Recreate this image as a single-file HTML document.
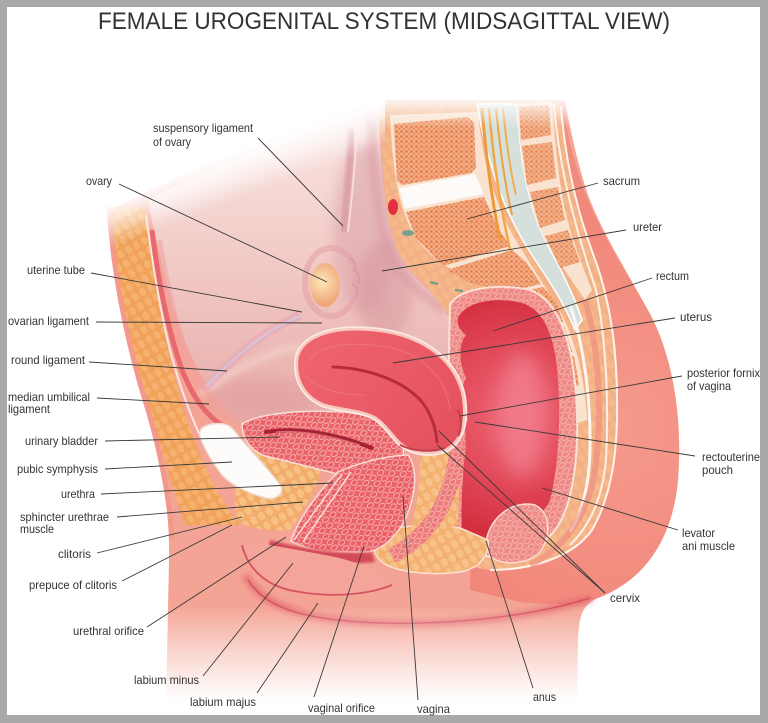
<!DOCTYPE html>
<html><head><meta charset="utf-8"><style>
html,body{margin:0;padding:0;background:#fff;}
svg{display:block;}
text{font-family:"Liberation Sans",Arial,sans-serif;fill:#333;font-size:12px;}
</style></head><body>
<svg width="768" height="723" viewBox="0 0 768 723" xmlns="http://www.w3.org/2000/svg">
<defs>
 <filter id="b1" x="-20%" y="-20%" width="140%" height="140%"><feGaussianBlur stdDeviation="1.2"/></filter>
 <filter id="b3" x="-30%" y="-30%" width="160%" height="160%"><feGaussianBlur stdDeviation="3"/></filter>
 <filter id="b6" x="-40%" y="-40%" width="180%" height="180%"><feGaussianBlur stdDeviation="6"/></filter>
 <filter id="b9" x="-50%" y="-50%" width="200%" height="200%"><feGaussianBlur stdDeviation="9"/></filter>
 <pattern id="sp" width="9" height="7" patternUnits="userSpaceOnUse" patternTransform="rotate(-35)">
  <ellipse cx="4.5" cy="3.5" rx="3.4" ry="2.4" fill="none" stroke="#f8bcb6" stroke-width="0.9"/>
 </pattern>
 <pattern id="fat" width="11" height="9" patternUnits="userSpaceOnUse" patternTransform="rotate(60)">
  <ellipse cx="5.5" cy="4.5" rx="4.6" ry="3.4" fill="#f8c890" opacity="0.75"/>
 </pattern>
 <pattern id="bone" width="5" height="5" patternUnits="userSpaceOnUse">
  <circle cx="1.5" cy="1.5" r="1.3" fill="#e27445"/><circle cx="4" cy="3.8" r="1.1" fill="#e8895a"/>
 </pattern>
 <linearGradient id="cav" x1="0" y1="100" x2="0" y2="430" gradientUnits="userSpaceOnUse">
  <stop offset="0" stop-color="#f9e6e3"/>
  <stop offset="0.3" stop-color="#f5d6d2"/>
  <stop offset="0.6" stop-color="#efc3bf"/>
  <stop offset="1" stop-color="#e7aba8"/>
 </linearGradient>
 <radialGradient id="butt" cx="610" cy="430" r="300" gradientUnits="userSpaceOnUse">
  <stop offset="0" stop-color="#f59a8c"/>
  <stop offset="0.7" stop-color="#f1877a"/>
  <stop offset="1" stop-color="#f09080"/>
 </radialGradient>
 <linearGradient id="fadeB" x1="0" y1="605" x2="0" y2="700" gradientUnits="userSpaceOnUse">
  <stop offset="0" stop-color="#fff" stop-opacity="0"/>
  <stop offset="0.5" stop-color="#fff" stop-opacity="0.55"/>
  <stop offset="1" stop-color="#fff" stop-opacity="1"/>
 </linearGradient>
 <linearGradient id="fadeTL" x1="242" y1="150" x2="258" y2="192" gradientUnits="userSpaceOnUse">
  <stop offset="0" stop-color="#fff" stop-opacity="1"/>
  <stop offset="0.4" stop-color="#fff" stop-opacity="0.7"/>
  <stop offset="1" stop-color="#fff" stop-opacity="0"/>
 </linearGradient>
 <linearGradient id="fadeT" x1="0" y1="96" x2="0" y2="128" gradientUnits="userSpaceOnUse">
  <stop offset="0" stop-color="#fff" stop-opacity="1"/>
  <stop offset="1" stop-color="#fff" stop-opacity="0"/>
 </linearGradient>
 <radialGradient id="lum" cx="515" cy="415" r="120" gradientUnits="userSpaceOnUse">
  <stop offset="0" stop-color="#ee6877"/>
  <stop offset="0.55" stop-color="#e24a5a"/>
  <stop offset="1" stop-color="#d3303f"/>
 </radialGradient>
 <linearGradient id="ut" x1="300" y1="330" x2="460" y2="450" gradientUnits="userSpaceOnUse">
  <stop offset="0" stop-color="#ef6670"/>
  <stop offset="1" stop-color="#e4505c"/>
 </linearGradient>
 <radialGradient id="ov" cx="322" cy="282" r="22" gradientUnits="userSpaceOnUse">
  <stop offset="0" stop-color="#fde6b8"/>
  <stop offset="1" stop-color="#efa678"/>
 </radialGradient>
</defs>

<!-- frame -->
<rect width="768" height="723" fill="#a9a9a9"/>
<rect x="7" y="7" width="753" height="708" fill="#fff"/>

<!-- title -->
<text x="384" y="29" text-anchor="middle" style="font-size:24px" fill="#383838" textLength="572" lengthAdjust="spacingAndGlyphs">FEMALE UROGENITAL SYSTEM (MIDSAGITTAL VIEW)</text>

<!-- body silhouette -->
<path d="M110,210 C114,278 128,348 148,415 C162,465 170,510 169,560 L166,705 L577,705 L578,640 C579,615 583,604 598,598 C640,582 672,545 678,480 C683,415 672,350 645,305 C625,268 602,232 588,195 C578,165 570,130 565,100 L380,100 C300,118 200,165 110,210 Z" fill="#f4a494"/>

<!-- pelvic cavity -->
<path d="M148,200 C220,163 310,122 380,103 L383,170 C385,210 392,250 410,270 C425,285 440,300 450,320 L452,430 L240,425 C215,400 195,370 180,330 C168,290 156,245 148,200 Z" fill="url(#cav)"/>
<ellipse cx="365" cy="230" rx="32" ry="85" fill="#d99ca4" opacity="0.5" filter="url(#b6)"/>
<ellipse cx="385" cy="290" rx="28" ry="50" fill="#d6949e" opacity="0.5" filter="url(#b6)"/>
<ellipse cx="262" cy="398" rx="55" ry="22" fill="#e09c9c" opacity="0.5" filter="url(#b6)"/>
<path d="M372,110 C372,180 378,240 400,272 C415,290 430,300 445,310" stroke="#d898a2" stroke-width="10" fill="none" opacity="0.5" filter="url(#b3)"/>
<path d="M200,395 C230,370 270,352 300,346" stroke="#f6d4cc" stroke-width="8" fill="none" opacity="0.6" filter="url(#b3)"/>
<path d="M205,388 C230,360 265,330 300,315" stroke="#e8aab6" stroke-width="9" fill="none" opacity="0.7"/>
<path d="M207,386 C232,358 266,330 300,316" stroke="#d2c8dc" stroke-width="2.5" fill="none" opacity="0.8"/>
<path d="M352,128 C350,170 346,205 343,232" stroke="#d4929c" stroke-width="7" fill="none" opacity="0.6" filter="url(#b1)"/>
<path d="M357,130 C355,170 351,205 348,232" stroke="#f6dcd8" stroke-width="2" fill="none"/>
<ellipse cx="331" cy="282" rx="26" ry="34" fill="none" stroke="#e4a2a6" stroke-width="6" opacity="0.6"/>
<ellipse cx="325" cy="285" rx="15" ry="22" fill="url(#ov)"/>
<path d="M350,258 q8,6 4,14 M354,270 q8,6 4,14 M352,284 q8,6 4,14" stroke="#d898a0" stroke-width="1.5" fill="none"/>
<path d="M380,105 C382,170 386,220 400,255 C412,275 430,290 448,305" stroke="#e9a9a8" stroke-width="3" fill="none"/>

<!-- abdominal wall -->
<path d="M111,207 C115,270 128,340 150,410 C162,450 175,495 185,525 L240,525 C225,505 210,480 200,455 C186,420 174,380 164,330 C156,290 150,250 144,207 Z" fill="#f1a158"/>
<path d="M111,207 C115,270 128,340 150,410 C162,450 175,495 185,525 L240,525 C225,505 210,480 200,455 C186,420 174,380 164,330 C156,290 150,250 144,207 Z" fill="url(#fat)" opacity="0.55"/>
<path d="M109,207 C113,270 126,340 148,410 C160,450 170,500 172,540" stroke="#f3998c" stroke-width="5" fill="none"/>
<path d="M146,215 C152,260 160,310 170,350 C182,395 196,430 210,455" stroke="#fce7df" stroke-width="2" fill="none"/>
<path d="M152,230 C158,280 168,330 182,370 C192,395 205,415 222,425" stroke="#e45e68" stroke-width="5" fill="none" opacity="0.85"/>
<path d="M159,240 C167,290 179,340 196,375 C206,395 222,412 240,420" stroke="#f0a4a4" stroke-width="6" fill="none" opacity="0.6"/>

<!-- buttock skin -->
<path d="M562,100 C567,135 576,170 588,200 C605,240 625,270 645,305 C672,350 683,415 678,480 C672,545 640,582 598,598 C580,604 560,606 520,602 L470,590 L470,560 C520,565 570,555 600,510 C612,480 616,420 614,370 C612,320 600,280 585,240 C572,205 562,160 556,100 Z" fill="url(#butt)"/>

<!-- posterior orange region -->
<path d="M378,102 L560,102 C564,160 575,210 595,262 C610,305 617,350 617,400 C618,450 612,495 592,530 C570,560 530,572 490,570 C470,568 455,560 448,545 L450,320 C440,300 425,285 410,270 C392,250 385,210 383,170 Z" fill="#f3b087"/>
<path d="M378,102 L560,102 C564,160 575,210 595,262 C610,305 617,350 617,400 C618,450 612,495 592,530 C570,560 530,572 490,570 C470,568 455,560 448,545 L450,320 C440,300 425,285 410,270 C392,250 385,210 383,170 Z" fill="url(#fat)" opacity="0.5"/>

<!-- sacrum -->
<path d="M390,115 L478,112 C483,165 495,200 510,230 C528,262 548,290 562,315 C577,345 585,380 587,420 L572,425 C570,385 560,345 540,318 C520,298 495,288 465,276 C435,262 415,245 405,215 C396,190 392,160 390,115 Z" fill="#f9e2d0"/>
<g fill="#f2ab82">
<path d="M394,124 L468,117 L474,123 L476,168 L471,173 L402,185 L397,181 Z"/>
<path d="M406,212 L484,197 L497,226 L510,246 L443,266 L416,238 Z"/>
<path d="M447,270 L512,250 L526,262 L541,284 L505,292 L470,283 Z"/>
<path d="M510,294 L543,287 L556,302 L563,322 L533,318 Z"/>
<path d="M537,322 L564,326 L572,352 L550,354 Z"/>
<path d="M553,358 L574,356 L579,385 L563,390 Z"/>
</g>
<g fill="url(#bone)" opacity="0.9">
<path d="M394,124 L468,117 L474,123 L476,168 L471,173 L402,185 L397,181 Z"/>
<path d="M406,212 L484,197 L497,226 L510,246 L443,266 L416,238 Z"/>
<path d="M447,270 L512,250 L526,262 L541,284 L505,292 L470,283 Z"/>
<path d="M510,294 L543,287 L556,302 L563,322 L533,318 Z"/>
<path d="M537,322 L564,326 L572,352 L550,354 Z"/>
<path d="M553,358 L574,356 L579,385 L563,390 Z"/>
</g>
<path d="M399,188 L475,174 L484,194 L405,209 Z" fill="#fdfaf7"/>
<ellipse cx="393" cy="207" rx="5" ry="8" fill="#e03040"/>
<ellipse cx="408" cy="233" rx="6" ry="3" fill="#7aa090"/>
<path d="M430,282 l8,2 M455,290 l8,1 M480,294 l8,2 M505,298 l6,2" stroke="#6a9a80" stroke-width="2"/>

<!-- spinal canal -->
<path d="M477,104 L517,104 C520,160 528,205 545,240 C560,268 572,290 582,320 L575,330 C563,300 548,280 532,255 C512,225 490,180 477,104 Z" fill="#d5e0dc" stroke="#fff" stroke-width="1.5"/>
<path d="M570,305 C584,345 591,400 590,450 C589,490 581,515 570,532" stroke="#fdf6f0" stroke-width="3" fill="none"/>
<path d="M482,108 C486,160 492,200 500,240" stroke="#ef9a3a" stroke-width="3" fill="none"/>
<path d="M489,108 C493,160 500,205 510,250" stroke="#f3a848" stroke-width="2.5" fill="none"/>
<path d="M496,108 C500,150 505,185 512,215" stroke="#eea040" stroke-width="2" fill="none"/>
<path d="M503,108 C506,140 510,170 516,195" stroke="#f2ac50" stroke-width="2" fill="none"/>

<!-- posterior elements -->
<path d="M517,104 L552,102 C555,140 558,175 565,210 C572,240 582,265 592,290 L585,300 C572,280 558,262 545,240 C528,205 520,160 517,104 Z" fill="#f9e2d0"/>
<g fill="#f2b088">
<path d="M519,107 L549,105 L551,135 L521,140 Z"/>
<path d="M522,146 L552,142 L556,178 L527,185 Z"/>
<path d="M530,192 L558,187 L565,220 L540,228 Z"/>
<path d="M545,236 L568,230 L580,262 L560,268 Z"/>
</g>
<g fill="url(#bone)" opacity="0.7">
<path d="M519,107 L549,105 L551,135 L521,140 Z"/>
<path d="M522,146 L552,142 L556,178 L527,185 Z"/>
<path d="M530,192 L558,187 L565,220 L540,228 Z"/>
<path d="M545,236 L568,230 L580,262 L560,268 Z"/>
</g>
<path d="M554,104 C559,170 576,230 596,290 C606,340 609,400 606,460 C602,500 590,525 570,545" stroke="#fdf0e8" stroke-width="2" fill="none"/>
<path d="M561,106 C565,160 576,210 596,262 C611,305 617,350 617,400 C618,450 612,495 592,530 C572,558 530,570 490,570" stroke="#fff3ec" stroke-width="2" fill="none"/>

<!-- rectum -->
<path d="M450,305 C458,288 500,283 530,290 C558,300 572,340 576,395 C580,450 574,505 555,530 C538,552 505,560 485,556 C468,552 456,545 452,530 C448,470 448,380 450,305 Z" fill="#ee8884" stroke="#fbe6dc" stroke-width="2"/>
<path d="M450,305 C458,288 500,283 530,290 C558,300 572,340 576,395 C580,450 574,505 555,530 C538,552 505,560 485,556 C468,552 456,545 452,530 C448,470 448,380 450,305 Z" fill="url(#sp)"/>
<path d="M458,318 C466,300 500,296 525,304 C545,312 556,340 558,380 C561,420 558,470 550,500 C543,518 525,520 510,520 C500,522 493,532 488,542 C480,550 468,550 463,542 C460,520 462,490 464,462 C458,448 458,432 468,420 C461,405 459,390 466,378 C459,362 458,345 466,335 C460,330 457,325 458,318 Z" fill="url(#lum)"/>
<ellipse cx="522" cy="415" rx="24" ry="62" fill="#f27f8e" opacity="0.8" filter="url(#b9)"/>
<path d="M486,542 C490,515 515,500 535,505 C550,512 552,535 540,552 C528,565 500,566 490,556 Z" fill="#ee8a86" stroke="#fbe0d8" stroke-width="1.5"/>
<path d="M486,542 C490,515 515,500 535,505 C550,512 552,535 540,552 C528,565 500,566 490,556 Z" fill="url(#sp)"/>
<path d="M585,300 C600,350 602,420 595,470 C588,515 565,548 530,565" stroke="#ec8a80" stroke-width="6" fill="none" opacity="0.6"/>

<!-- perineal fat -->
<path d="M375,540 C385,525 430,522 460,528 L488,540 C490,555 480,568 460,572 C430,576 395,572 382,562 C374,555 372,546 375,540 Z" fill="#f3b070" stroke="#fbe6dc" stroke-width="1.5"/>
<path d="M375,540 C385,525 430,522 460,528 L488,540 C490,555 480,568 460,572 C430,576 395,572 382,562 C374,555 372,546 375,540 Z" fill="url(#fat)"/>
<path d="M420,458 C435,448 452,442 460,450 L458,525 C445,530 425,528 410,530 C418,505 420,480 420,458 Z" fill="#f3b070"/>
<path d="M420,458 C435,448 452,442 460,450 L458,525 C445,530 425,528 410,530 C418,505 420,480 420,458 Z" fill="url(#fat)"/>
<path d="M455,420 C462,445 455,480 440,510 C428,530 412,545 392,556" stroke="#ec7a7a" stroke-width="16" fill="none"/>
<path d="M455,420 C462,445 455,480 440,510 C428,530 412,545 392,556" stroke="url(#sp)" stroke-width="16" fill="none"/>

<!-- bladder fat -->
<path d="M245,445 C270,450 300,458 320,470 C318,490 300,515 290,530 C270,532 250,528 238,522 C232,500 236,470 245,445 Z" fill="#f2ab68"/>
<path d="M245,445 C270,450 300,458 320,470 C318,490 300,515 290,530 C270,532 250,528 238,522 C232,500 236,470 245,445 Z" fill="url(#fat)"/>

<!-- pubic symphysis -->
<path d="M202,428 C210,422 226,422 232,428 C248,448 268,468 281,486 C284,494 276,500 266,498 C250,494 232,486 222,475 C212,462 204,448 200,437 C199,433 200,430 202,428 Z" fill="#fefcfb" stroke="#eed9cc" stroke-width="1.5"/>

<!-- bladder -->
<path d="M242,424 C262,412 305,410 345,412 C372,414 395,422 403,440 C405,452 402,462 398,466 C380,470 360,474 342,475 C320,470 292,462 265,456 C250,450 242,438 242,424 Z" fill="#e9626a" stroke="#fae2da" stroke-width="1.5"/>
<path d="M242,424 C262,412 305,410 345,412 C372,414 395,422 403,440 C405,452 402,462 398,466 C380,470 360,474 342,475 C320,470 292,462 265,456 C250,450 242,438 242,424 Z" fill="url(#sp)"/>
<path d="M266,432 C295,427 335,433 372,448" stroke="#a52434" stroke-width="4" fill="none" stroke-linecap="round"/>
<path d="M276,432 C300,430 330,435 360,445" stroke="#e07078" stroke-width="1" fill="none"/>

<!-- vagina / urethra -->
<path d="M338,472 C358,463 385,456 408,455 C418,470 416,492 407,515 C398,535 385,548 368,552 L328,552 C312,550 300,546 291,541 C298,520 318,492 338,472 Z" fill="#ea6068" stroke="#fae0d8" stroke-width="1.5"/>
<path d="M338,472 C358,463 385,456 408,455 C418,470 416,492 407,515 C398,535 385,548 368,552 L328,552 C312,550 300,546 291,541 C298,520 318,492 338,472 Z" fill="url(#sp)"/>
<path d="M342,474 L294,540 M351,472 L303,542" stroke="#fbe4dc" stroke-width="1.4" fill="none"/>

<!-- uterus -->
<path d="M297,362 C298,338 330,326 372,330 C418,334 452,356 462,392 C468,420 462,442 445,450 C428,456 410,452 400,443 C392,435 386,425 376,418 C362,410 342,410 325,405 C306,398 296,382 297,362 Z" fill="none" stroke="#fbeae4" stroke-width="6"/>
<path d="M297,362 C298,338 330,326 372,330 C418,334 452,356 462,392 C468,420 462,442 445,450 C428,456 410,452 400,443 C392,435 386,425 376,418 C362,410 342,410 325,405 C306,398 296,382 297,362 Z" fill="url(#ut)" stroke="#f7c7bd" stroke-width="2.5"/>
<path d="M310,360 C320,343 360,340 400,350 C430,360 448,385 450,410" stroke="#f27e86" stroke-width="1" fill="none" opacity="0.7"/>
<path d="M305,375 C315,390 345,395 365,395" stroke="#f27e86" stroke-width="1" fill="none" opacity="0.7"/>
<path d="M333,367 C370,368 405,382 422,402 C432,415 436,430 437,442" stroke="#b52d3d" stroke-width="3" fill="none" stroke-linecap="round"/>
<path d="M400,445 C415,452 432,452 445,448" stroke="#c0404c" stroke-width="2" fill="none"/>
<path d="M458,410 C462,420 462,428 458,436" stroke="#c0404c" stroke-width="2" fill="none"/>

<!-- external genitalia -->
<path d="M270,540 C300,548 340,555 372,552 L375,562 C340,566 300,560 268,550 Z" fill="#d44858" filter="url(#b1)"/>
<path d="M240,540 C245,565 265,585 300,592 C335,598 370,594 392,585 C380,572 360,562 330,556 C300,550 270,545 240,540 Z" fill="#f5a49a"/>
<path d="M242,545 C248,570 268,588 300,592 C335,598 370,594 392,585" stroke="#d75462" stroke-width="1.8" fill="none"/>
<path d="M245,575 C262,605 300,618 360,622 C440,628 530,618 592,598" stroke="#e46870" stroke-width="7" fill="none" opacity="0.8" filter="url(#b3)"/>
<path d="M248,580 C265,607 300,618 360,622 C440,627 530,617 590,598" stroke="#d5525e" stroke-width="1.5" fill="none"/>

<!-- fades -->
<rect x="150" y="600" width="440" height="110" fill="url(#fadeB)"/>
<rect x="90" y="90" width="295" height="180" fill="url(#fadeTL)"/>
<rect x="370" y="92" width="210" height="40" fill="url(#fadeT)"/>
<rect x="7" y="705" width="753" height="10" fill="#fff"/>

<!-- leader lines -->
<g stroke="#3a3a3a" stroke-width="0.9" fill="none">
<path d="M258,138 L343,226"/>
<path d="M119,184 L327,282"/>
<path d="M91,273 L302,312"/>
<path d="M96,322 L322,323"/>
<path d="M89,362 L227,371"/>
<path d="M97,398 L209,404"/>
<path d="M105,441 L280,437"/>
<path d="M105,469 L232,462"/>
<path d="M101,494 L333,483"/>
<path d="M117,517 L303,502"/>
<path d="M97,553 L242,517"/>
<path d="M122,581 L232,525"/>
<path d="M147,627 L286,537"/>
<path d="M203,676 L293,563"/>
<path d="M257,693 L318,603"/>
<path d="M314,697 L364,546"/>
<path d="M418,700 L403,496"/>
<path d="M533,688 L486,541"/>
<path d="M605,593 L439,431"/>
<path d="M605,593 L437,445"/>
<path d="M678,530 L542,488"/>
<path d="M695,456 L475,422"/>
<path d="M682,376 L460,416"/>
<path d="M675,318 L393,363"/>
<path d="M652,278 L493,331"/>
<path d="M626,230 L382,271"/>
<path d="M598,183 L467,219"/>
</g>

<!-- labels -->
<text x="153" y="132" textLength="100" lengthAdjust="spacingAndGlyphs">suspensory ligament</text>
<text x="153" y="146" textLength="38" lengthAdjust="spacingAndGlyphs">of ovary</text>
<text x="86" y="185" textLength="26" lengthAdjust="spacingAndGlyphs">ovary</text>
<text x="27" y="274" textLength="58" lengthAdjust="spacingAndGlyphs">uterine tube</text>
<text x="8" y="325" textLength="81" lengthAdjust="spacingAndGlyphs">ovarian ligament</text>
<text x="11" y="364" textLength="74" lengthAdjust="spacingAndGlyphs">round ligament</text>
<text x="8" y="401" textLength="82" lengthAdjust="spacingAndGlyphs">median umbilical</text>
<text x="8" y="413" textLength="42" lengthAdjust="spacingAndGlyphs">ligament</text>
<text x="25" y="445" textLength="73" lengthAdjust="spacingAndGlyphs">urinary bladder</text>
<text x="17" y="473" textLength="81" lengthAdjust="spacingAndGlyphs">pubic symphysis</text>
<text x="61" y="498" textLength="34" lengthAdjust="spacingAndGlyphs">urethra</text>
<text x="20" y="521" textLength="89" lengthAdjust="spacingAndGlyphs">sphincter urethrae</text>
<text x="20" y="533" textLength="34" lengthAdjust="spacingAndGlyphs">muscle</text>
<text x="58" y="558" textLength="33" lengthAdjust="spacingAndGlyphs">clitoris</text>
<text x="29" y="589" textLength="88" lengthAdjust="spacingAndGlyphs">prepuce of clitoris</text>
<text x="73" y="635" textLength="71" lengthAdjust="spacingAndGlyphs">urethral orifice</text>
<text x="134" y="684" textLength="65" lengthAdjust="spacingAndGlyphs">labium minus</text>
<text x="190" y="706" textLength="66" lengthAdjust="spacingAndGlyphs">labium majus</text>
<text x="308" y="712" textLength="67" lengthAdjust="spacingAndGlyphs">vaginal orifice</text>
<text x="417" y="713" textLength="33" lengthAdjust="spacingAndGlyphs">vagina</text>
<text x="533" y="701" textLength="23" lengthAdjust="spacingAndGlyphs">anus</text>
<text x="610" y="602" textLength="30" lengthAdjust="spacingAndGlyphs">cervix</text>
<text x="682" y="537" textLength="33" lengthAdjust="spacingAndGlyphs">levator</text>
<text x="682" y="550" textLength="53" lengthAdjust="spacingAndGlyphs">ani muscle</text>
<text x="702" y="461" textLength="58" lengthAdjust="spacingAndGlyphs">rectouterine</text>
<text x="702" y="474" textLength="31" lengthAdjust="spacingAndGlyphs">pouch</text>
<text x="687" y="377" textLength="73" lengthAdjust="spacingAndGlyphs">posterior fornix</text>
<text x="687" y="390" textLength="44" lengthAdjust="spacingAndGlyphs">of vagina</text>
<text x="680" y="321" textLength="32" lengthAdjust="spacingAndGlyphs">uterus</text>
<text x="656" y="280" textLength="33" lengthAdjust="spacingAndGlyphs">rectum</text>
<text x="633" y="231" textLength="29" lengthAdjust="spacingAndGlyphs">ureter</text>
<text x="603" y="185" textLength="37" lengthAdjust="spacingAndGlyphs">sacrum</text>
</svg>
</body></html>
